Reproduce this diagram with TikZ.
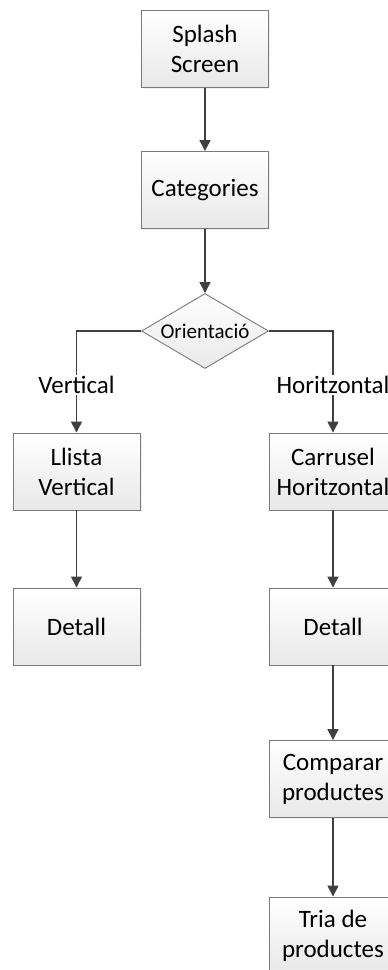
\documentclass[tikz,border=0pt]{standalone}
\usepackage{fontspec}
\setmainfont{Carlito}
\usetikzlibrary{shapes.geometric,arrows.meta,shadows}
\definecolor{edge}{HTML}{7A7A7A}
\definecolor{wire}{HTML}{404040}
\begin{document}
\begin{tikzpicture}[x=1pt,y=1pt,
    screen/.style={rectangle,draw=edge,line width=0.9pt,top color=white,bottom color=black!9,
        minimum width=127pt,minimum height=77pt,align=center,inner sep=0pt,
        font=\fontsize{25}{30}\selectfont,
        drop shadow={opacity=0.12,shadow xshift=1.5pt,shadow yshift=-1.5pt}},
    choice/.style={diamond,draw=edge,line width=0.9pt,top color=white,bottom color=black!9,
        minimum width=127pt,minimum height=75pt,aspect=1.7,inner sep=0pt,
        font=\fontsize{21}{25}\selectfont},
    branch/.style={inner sep=1pt,font=\fontsize{25}{30}\selectfont},
    flow/.style={draw=wire,line width=1.4pt,-{Triangle[length=11pt,width=11pt]}},
    wireline/.style={draw=wire,line width=1.4pt}]
    \useasboundingbox (0,0) rectangle (388,970);
    \node[screen] (splash) at (205,921) {Splash\\Screen};
    \node[screen,below of=splash,node distance=141pt] (cat) {Categories};
    \node[choice,below of=cat,node distance=141pt] (orient) {Orientació};
    \node[screen,below of=orient,node distance=140.5pt,xshift=-128.5pt] (llista) {Llista\\Vertical};
    \node[screen,below of=orient,node distance=140.5pt,xshift=128pt] (carrusel) {Carrusel\\Horitzontal};
    \node[branch] (vert) at (76.5,585) {Vertical};
    \node[branch] (horit) at (333,585) {Horitzontal};
    \node[screen,below of=llista,node distance=155pt] (detallv) {Detall};
    \node[screen,below of=carrusel,node distance=155pt] (detallh) {Detall};
    \node[screen,below of=detallh,node distance=152.5pt] (comparar) {Comparar\\productes};
    \node[screen,below of=comparar,node distance=156.5pt] (tria) {Tria de\\productes};
    \path[flow] (splash) -- (cat);
    \path[flow] (cat) -- (orient);
    \path[wireline] (orient.west) -| (vert.north);
    \path[wireline] (orient.east) -| (horit.north);
    \path[flow] (vert) -- (llista);
    \path[flow] (horit) -- (carrusel);
    \path[flow] (llista) -- (detallv);
    \path[flow] (carrusel) -- (detallh);
    \path[flow] (detallh) -- (comparar);
    \path[flow] (comparar) -- (tria);
\end{tikzpicture}
\end{document}
